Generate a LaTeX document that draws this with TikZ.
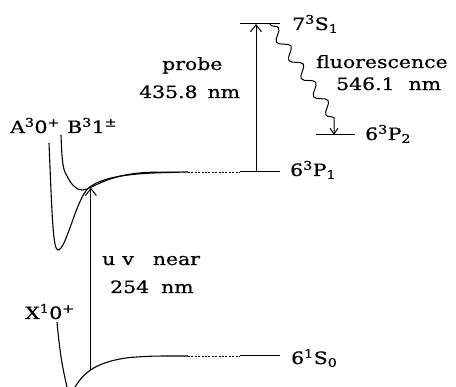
\documentclass[tikz,border=0pt]{standalone}
\usepackage{fontspec}
\setmainfont{DejaVu Serif}[FakeStretch=1.2,FakeBold=0.8]
\usetikzlibrary{arrows.meta,decorations.pathmorphing}
\begin{document}
\begin{tikzpicture}[x=1pt,y=-1pt,
  curve/.style={line width=1.1pt},
  level/.style={line width=1pt},
  dashlevel/.style={line width=0.9pt, dash pattern=on 2pt off 1.4pt},
  arr/.style={line width=1pt, -{Straight Barb[length=7pt,width=11pt]}},
  lbl/.style={font=\fontsize{17}{20}\selectfont, inner sep=0pt, anchor=base west},
  wavy/.style={line width=1pt, decorate, decoration={snake, amplitude=5pt, segment length=22pt, pre length=1pt, post length=16pt},
    -{Straight Barb[length=6pt,width=8pt]}}]
\useasboundingbox (0,0) rectangle (456,387);

% level coordinates
\coordinate (S7a) at (240,24);
\coordinate (S7b) at (280,24);
\coordinate (S7f) at (270,24);
\coordinate (P2a) at (316,135);
\coordinate (P2b) at (355,135);
\coordinate (P2f) at (334,135);
\coordinate (P2k) at (334,118);
\coordinate (P1c) at (188,172);
\coordinate (P1d) at (240,172);
\coordinate (P1e) at (280,172);
\coordinate (P1x) at (256,172);
\coordinate (S7x) at (256,24);
\coordinate (S0c) at (188,356);
\coordinate (S0d) at (240,356);
\coordinate (S0e) at (280,356);

% upper levels
\draw[level] (S7a) -- (S7b);
\draw[level] (P2a) -- (P2b);
\draw[level] (P1d) -- (P1e);
\draw[dashlevel] (P1c) -- (P1d);
\draw[level] (S0d) -- (S0e);
\draw[dashlevel] (S0c) -- (S0d);

% potential curves
% B3 1
\draw[curve] (61,135) .. controls (62,163) and (63,170) .. (67,176)
  .. controls (71,184) and (76,190) .. (82,190)
  .. controls (92,190) and (105,174) .. (150,172.3) -- (P1c);
% A3 0+
\draw[curve] (49,143) .. controls (52,215) and (53,250) .. (58,250)
  .. controls (66,250) and (76,200) .. (88,188.5)
  .. controls (100,178) and (125,172.6) .. (180,172.4);
% X1 0+
\draw[curve] (57,322) .. controls (60,355) and (63,370) .. (67,387);
\draw[curve] (75,387) .. controls (82,376) and (92,362) .. (130,357.5) coordinate[pos=0.5] (Xv)
  .. controls (150,356) .. (S0c);
\coordinate (Bv) at (90,187.8);

% transitions
\draw[arr] (Xv) -- (Xv |- Bv);
\draw[arr] (P1x) -- (S7x);
\draw[wavy] (S7f) -- (P2k) -- (P2f);

% labels
\node[lbl] (lS7) at (292,30) {7\textsuperscript{3}S\textsubscript{1}};
\node[lbl] (lP2) at (365,140) {6\textsuperscript{3}P\textsubscript{2}};
\node[lbl] (lP1) at (290,176) {6\textsuperscript{3}P\textsubscript{1}};
\node[lbl] (lS0) at (291,364) {6\textsuperscript{1}S\textsubscript{0}};
\node[lbl] (lA) at (10,133) {A\textsuperscript{3}0\textsuperscript{+}};
\node[lbl] (lB) at (67,133) {B\textsuperscript{3}1\textsuperscript{±}};
\node[lbl] (lX) at (25,319) {X\textsuperscript{1}0\textsuperscript{+}};
\node[lbl] (lprobe) at (162,70) {probe};
\node[lbl] (lpw) at (139,98) {435.8\hspace{10pt}nm};
\node[lbl] (lfl) at (316,68) {fluorescence};
\node[lbl] (lfw) at (336,90) {546.1\hspace{14pt}nm};
\node[lbl] (luv) at (102,265) {u\hspace{7pt}v\hspace{19pt}near};
\node[lbl] (luw) at (110,293) {254\hspace{12pt}nm};
\end{tikzpicture}
\end{document}
